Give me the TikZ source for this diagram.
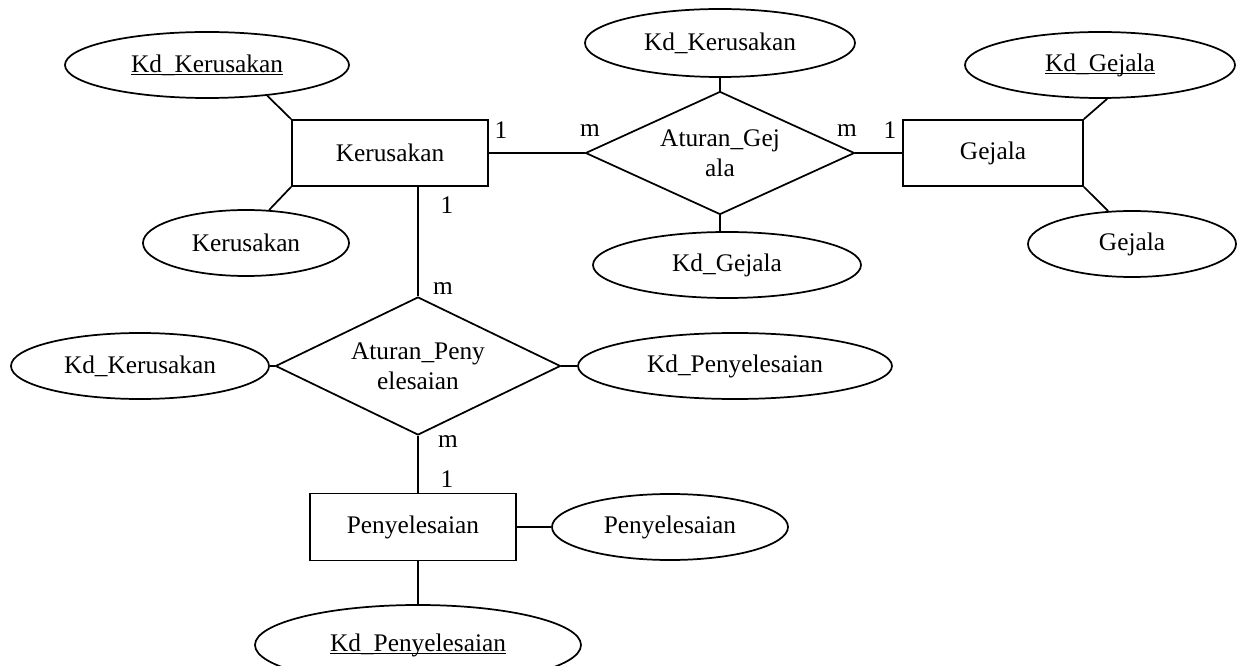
\documentclass[tikz,border=0pt]{standalone}
\usepackage{fontspec}
\setmainfont{Liberation Serif}
\usetikzlibrary{shapes.geometric}
% key attribute: underline at the level of the underscore
\newcommand\keyattr[1]{\setbox0=\hbox{#1}\rlap{\rule[-2.4pt]{\wd0}{0.9pt}}\box0}
\begin{document}
\begin{tikzpicture}[x=0.75pt,y=-0.75pt,
  font=\fontsize{19}{22.5}\selectfont,
  every node/.style={inner sep=0pt},
  entity/.style={draw, line width=1.3pt, rectangle},
  attr/.style={draw, line width=1.3pt, ellipse},
  rel/.style={draw, line width=1.3pt, diamond, align=center},
  link/.style={line width=1.3pt}]
\useasboundingbox (0,0) rectangle (1238,666);

% entities
\node[entity, minimum width=147pt, minimum height=49.5pt] (kerus) at (390,153) {Kerusakan};
\node[entity, minimum width=135pt, minimum height=49.5pt] (gejala) at (993,153) {Gejala};
\node[entity, minimum width=154.5pt, minimum height=50.25pt] (pen) at (413,527) {Penyelesaian};

% relationships
\node[rel, aspect=2.19, minimum width=201.75pt, minimum height=92.25pt] (atg) at (720,153) {Aturan\_Gej\\ala};
\node[rel, aspect=2.07, minimum width=213.75pt, minimum height=103.5pt] (atp) at (418,366) {Aturan\_Peny\\elesaian};

% attributes
\node[attr, minimum width=213pt, minimum height=49.5pt] (kk1) at (207,65) {\keyattr{Kd\_Kerusakan}};
\node[attr, minimum width=154.5pt, minimum height=49.5pt] (ka) at (246,243) {Kerusakan};
\node[attr, minimum width=202.5pt, minimum height=51pt] (kk2) at (720,43) {Kd\_Kerusakan};
\node[attr, minimum width=201pt, minimum height=49.5pt] (kg2) at (727,265) {Kd\_Gejala};
\node[attr, minimum width=202.5pt, minimum height=49.5pt] (kg1) at (1100,65) {\keyattr{Kd\_Gejala}};
\node[attr, minimum width=156pt, minimum height=49.5pt] (ga) at (1132,244) {Gejala};
\node[attr, minimum width=193.5pt, minimum height=49.5pt] (kk3) at (140,366) {Kd\_Kerusakan};
\node[attr, minimum width=235.5pt, minimum height=49.5pt] (kp2) at (735,366) {Kd\_Penyelesaian};
\node[attr, minimum width=177pt, minimum height=49.5pt] (pa) at (670,527) {Penyelesaian};
\node[attr, minimum width=244.5pt, minimum height=60pt] (kp1) at (418,645) {\keyattr{Kd\_Penyelesaian}};

% attribute links
\draw[link] (kerus.north west) -- (kk1.-27);
\draw[link] (kerus.south west) -- (ka.55);
\draw[link] (gejala.north east) -- (kg1.-78);
\draw[link] (gejala.south east) -- (ga.126);
\draw[link] (kk2.south) -- (atg.north);
\draw[link] (atg.south) -- (atg.south |- kg2.north);
\draw[link] (atp.west) -- (kk3.east);
\draw[link] (atp.east) -- (kp2.west);
\draw[link] (pen.east) -- (pa.west);
\draw[link] (pen.south -| kp1.north) -- (kp1.north);

% relationship links
\draw[link] (kerus.east) -- (atg.west);
\draw[link] (atg.east) -- (gejala.west);
\draw[link] (atp.north |- kerus.south) -- (atp.north);
\draw[link] (atp.south) -- (atp.south |- pen.north);

% cardinalities
\node (c1) at (501,130) {1};
\node (c2) at (590,131) {m};
\node (c3) at (847,131) {m};
\node (c4) at (890,130) {1};
\node (c5) at (447,205) {1};
\node (c6) at (443,289) {m};
\node (c7) at (448,442) {m};
\node (c8) at (447,479) {1};
\end{tikzpicture}
\end{document}
